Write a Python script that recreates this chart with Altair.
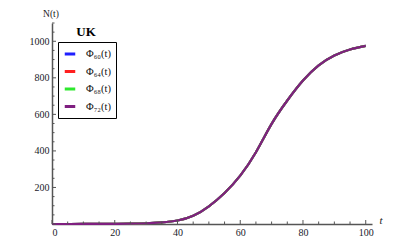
import altair as alt
import pandas as pd

# Data
t_vals = [0, 5, 10, 15, 20, 25, 30, 35, 40, 45, 50, 55, 60, 65, 70, 75, 80, 85, 90, 95, 100]
n_vals = [0.05, 0.1, 0.2, 0.4, 0.8, 1.8, 4, 9, 19, 45, 97, 170, 265, 393, 548, 676, 785, 868, 922, 955, 975]
series = ["Φ₆₀(t)", "Φ₆₄(t)", "Φ₆₈(t)", "Φ₇₂(t)"]
colors = ["#1f1fff", "#ff1f1f", "#2ee82e", "#7f1f80"]
x_major = [0, 20, 40, 60, 80, 100]
x_minor = [v for v in range(0, 101, 5) if v % 20 != 0]
y_major = [0, 200, 400, 600, 800, 1000]
y_minor = [v for v in range(0, 1101, 50) if v % 200 != 0]
y_labels = [200, 400, 600, 800, 1000]

rows = []
for s in series:
    for t, n in zip(t_vals, n_vals):
        rows.append({"t": t, "N": n, "series": s})
df = pd.DataFrame(rows)

W, H = 320, 201
FONT = "Liberation Serif, DejaVu Serif, serif"

xs = alt.Scale(domain=[0, 102], nice=False)
ys = alt.Scale(domain=[0, 1100], nice=False)

lines = alt.Chart(df).mark_line(strokeWidth=2.2, interpolate="natural").encode(
    x=alt.X("t:Q", scale=xs,
            axis=alt.Axis(values=x_major, title=None, labelPadding=3, format="d")),
    y=alt.Y("N:Q", scale=ys,
            axis=alt.Axis(values=y_labels, title=None, labelPadding=3, format="d")),
    color=alt.Color("series:N", sort=series,
                    scale=alt.Scale(domain=series, range=colors),
                    legend=alt.Legend(title=None, orient="none", legendX=6, legendY=19,
                                      symbolType="stroke", symbolStrokeWidth=3,
                                      symbolSize=110, strokeColor="black",
                                      padding=5, rowPadding=4.5, labelOffset=9,
                                      labelFont=FONT, labelFontSize=10.5,
                                      labelColor="#111", fillColor="white")),
)

xmaj = alt.Chart(pd.DataFrame({"v": x_major})).mark_rule(color="#555", strokeWidth=1).encode(
    x=alt.X("v:Q", scale=xs), y=alt.value(H), y2=alt.value(H - 4))
xmin = alt.Chart(pd.DataFrame({"v": x_minor})).mark_rule(color="#555", strokeWidth=1).encode(
    x=alt.X("v:Q", scale=xs), y=alt.value(H), y2=alt.value(H - 2.5))
ymaj = alt.Chart(pd.DataFrame({"v": y_major})).mark_rule(color="#555", strokeWidth=1).encode(
    y=alt.Y("v:Q", scale=ys), x=alt.value(0), x2=alt.value(4))
ymin = alt.Chart(pd.DataFrame({"v": y_minor})).mark_rule(color="#555", strokeWidth=1).encode(
    y=alt.Y("v:Q", scale=ys), x=alt.value(0), x2=alt.value(2.5))

uk = alt.Chart(pd.DataFrame({"label": ["UK"]})).mark_text(
    font=FONT, fontSize=13, fontWeight="bold", color="black", align="center", baseline="middle"
).encode(text="label:N", x=alt.value(34), y=alt.value(9))

ytitle = alt.Chart(pd.DataFrame({"label": ["N(t)"]})).mark_text(
    font=FONT, fontSize=9.5, color="#222", align="center", baseline="top"
).encode(text="label:N", x=alt.value(-1), y=alt.value(-14.5))

xtitle = alt.Chart(pd.DataFrame({"label": ["t"]})).mark_text(
    font=FONT, fontSize=11, fontStyle="italic", color="#222", align="center", baseline="middle"
).encode(text="label:N", x=alt.value(W + 9), y=alt.value(H - 3))

chart = alt.layer(lines, xmaj, xmin, ymaj, ymin, uk, ytitle, xtitle).properties(
    width=W, height=H,
    autosize=alt.AutoSizeParams(type="none"),
    padding={"left": 44, "top": 15, "right": 25, "bottom": 14},
    background="white",
).configure_axis(
    domainColor="#555", domainWidth=1.5, ticks=False, grid=False,
    labelFont=FONT, titleFont=FONT, labelFontSize=10, labelColor="#1a1a2a", titleColor="#222",
).configure_view(stroke=None)

chart.save("out.html", embed_options={"renderer": "svg", "actions": False})
